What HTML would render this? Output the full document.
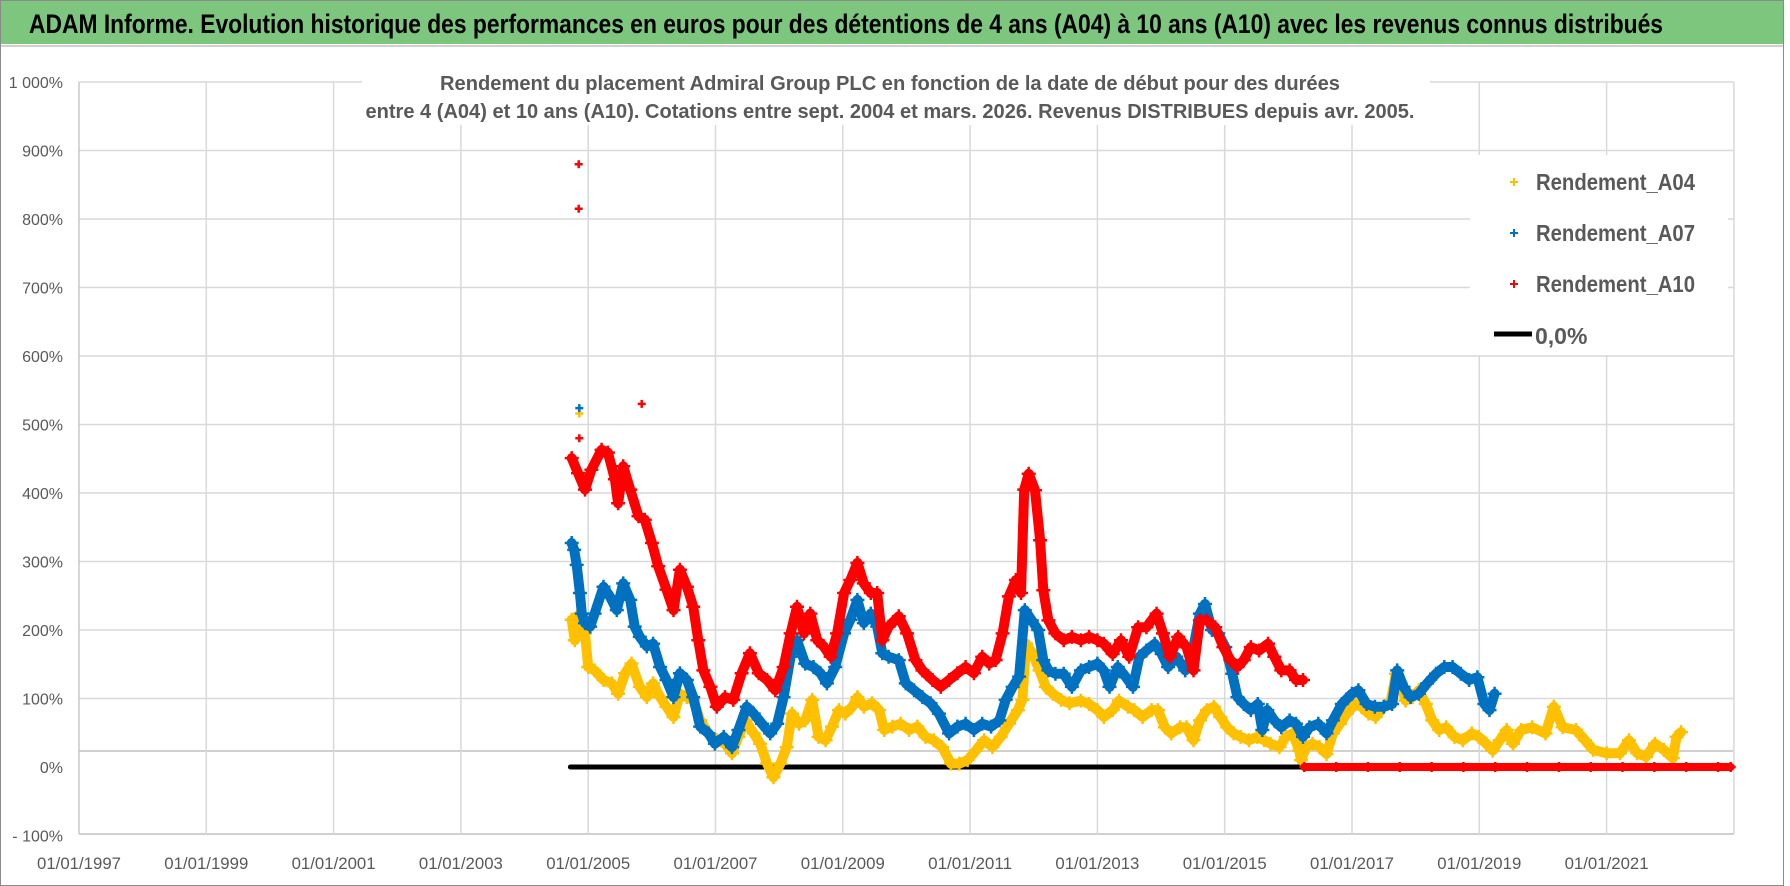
<!DOCTYPE html>
<html><head><meta charset="utf-8"><title>ADAM Informe - Admiral Group PLC</title>
<style>
html,body{margin:0;padding:0;background:#fff;}
svg{display:block;}
text{font-family:"Liberation Sans",sans-serif;}
</style></head>
<body>
<svg id="chart" width="1790" height="886" viewBox="0 0 1790 886">
  <rect x="0" y="0" width="1790" height="886" fill="#fff"/>
  <rect x="0.5" y="0.5" width="1783" height="885" fill="none" stroke="#8a8a8a"/>
  <rect x="1" y="1" width="1782" height="43" fill="#7cc67d"/>
  <line x1="1" y1="46" x2="1783" y2="46" stroke="#d0d0d0" stroke-width="2"/>
  <text x="29" y="33" font-size="27" font-weight="bold" fill="#000" textLength="1634" lengthAdjust="spacingAndGlyphs">ADAM Informe. Evolution historique des performances en euros pour des détentions de 4 ans (A04) à 10 ans (A10) avec les revenus connus distribués</text>
  <g id="grid"></g>
  <rect x="362" y="60" width="1068" height="65" fill="#fff"/>
  <text x="890" y="90" font-size="20" font-weight="bold" fill="#595959" text-anchor="middle" textLength="900" lengthAdjust="spacingAndGlyphs">Rendement du placement Admiral Group PLC en fonction de la date de début pour des durées</text>
  <text x="890" y="118" font-size="20" font-weight="bold" fill="#595959" text-anchor="middle" textLength="1049" lengthAdjust="spacingAndGlyphs">entre 4 (A04) et 10 ans (A10). Cotations entre sept. 2004 et mars. 2026. Revenus DISTRIBUES depuis avr. 2005.</text>
  <g id="yaxis"></g>
  <g id="xaxis"></g>
  <g id="series"></g>
  <g id="legend">
    <rect x="1470" y="155" width="258" height="200" fill="#fff"/>
    <g>
      <path d="M1510 182h8M1514 178v8" stroke="#ffc000" stroke-width="2"/>
      <text x="1536" y="190" font-size="23" font-weight="bold" fill="#595959" textLength="159" lengthAdjust="spacingAndGlyphs">Rendement_A04</text>
    </g>
    <g>
      <path d="M1510 233h8M1514 229v8" stroke="#0070c0" stroke-width="2"/>
      <text x="1536" y="241" font-size="23" font-weight="bold" fill="#595959" textLength="159" lengthAdjust="spacingAndGlyphs">Rendement_A07</text>
    </g>
    <g>
      <path d="M1510 284h8M1514 280v8" stroke="#ff0000" stroke-width="2"/>
      <text x="1536" y="292" font-size="23" font-weight="bold" fill="#595959" textLength="159" lengthAdjust="spacingAndGlyphs">Rendement_A10</text>
    </g>
    <g>
      <line x1="1494" y1="334" x2="1532" y2="334" stroke="#000" stroke-width="5"/>
      <text x="1535" y="344" font-size="23" font-weight="bold" fill="#595959">0,0%</text>
    </g>
  </g>
</svg>
<script>
// ---- data ----
const yTicks = [1000, 900, 800, 700, 600, 500, 400, 300, 200, 100, 0, -100];
const yTickLabels = ["1 000%", "900%", "800%", "700%", "600%", "500%", "400%", "300%", "200%", "100%", "0%", "- 100%"];
const xTickYears = [1997, 1999, 2001, 2003, 2005, 2007, 2009, 2011, 2013, 2015, 2017, 2019, 2021];
const xTickLabels = ["01/01/1997","01/01/1999","01/01/2001","01/01/2003","01/01/2005","01/01/2007","01/01/2009","01/01/2011","01/01/2013","01/01/2015","01/01/2017","01/01/2019","01/01/2021"];

const a10Dates = [2004.74,2004.84,2004.95,2005.05,2005.21,2005.31,2005.42,2005.47,2005.55,2005.66,2005.79,2005.89,2006.0,2006.1,2006.23,2006.34,2006.44,2006.55,2006.65,2006.73,2006.81,2006.92,2007.02,2007.15,2007.28,2007.41,2007.54,2007.68,2007.81,2007.94,2008.07,2008.18,2008.28,2008.39,2008.49,2008.6,2008.7,2008.81,2008.91,2009.02,2009.12,2009.23,2009.33,2009.44,2009.54,2009.62,2009.72,2009.88,2010.01,2010.14,2010.25,2010.41,2010.54,2010.67,2010.8,2010.93,2011.06,2011.19,2011.3,2011.4,2011.51,2011.61,2011.72,2011.8,2011.85,2011.92,2012.02,2012.1,2012.15,2012.23,2012.34,2012.47,2012.6,2012.74,2012.87,2013.0,2013.1,2013.24,2013.37,2013.5,2013.64,2013.77,2013.93,2014.03,2014.14,2014.27,2014.4,2014.51,2014.61,2014.72,2014.85,2014.98,2015.09,2015.2,2015.3,2015.41,2015.54,2015.68,2015.78,2015.89,2016.02,2016.12,2016.23];
const a10Values = [451,429,405,434,463,459,420,385,439,405,366,361,327,293,259,229,288,263,234,185,141,117,88,102,98,137,166,137,127,112,146,195,234,195,224,185,176,161,195,254,273,298,268,254,254,185,205,220,195,156,141,127,117,127,137,146,137,161,151,156,195,249,273,254,405,428,404,331,258,214,195,185,190,185,190,185,180,165,185,161,204,204,224,195,161,190,175,141,214,214,204,175,156,146,156,175,170,180,161,141,141,127,127];
const a10ZeroDates = [2016.25,2016.75,2017.25,2017.75,2018.25,2018.75,2019.25,2019.75,2020.25,2020.75,2021.25,2021.75,2022.25,2022.75,2022.95];
const a10ZeroValues = [0,0,0,0,0,0,0,0,0,0,0,0,0,0,0];
const a10OutlierDates = [2004.85,2004.85,2004.86,2005.84];
const a10OutlierValues = [880,815,480,530];

const a07Dates = [2004.74,2004.78,2004.82,2004.87,2004.9,2004.95,2005.03,2005.1,2005.24,2005.34,2005.45,2005.55,2005.66,2005.73,2005.81,2005.92,2006.02,2006.13,2006.23,2006.34,2006.44,2006.55,2006.65,2006.76,2006.89,2006.99,2007.13,2007.26,2007.36,2007.49,2007.6,2007.73,2007.86,2007.97,2008.07,2008.18,2008.28,2008.41,2008.54,2008.65,2008.75,2008.88,2009.02,2009.12,2009.23,2009.33,2009.44,2009.54,2009.62,2009.72,2009.88,2009.99,2010.12,2010.25,2010.38,2010.51,2010.67,2010.8,2010.93,2011.06,2011.19,2011.33,2011.46,2011.56,2011.67,2011.77,2011.86,2011.97,2012.07,2012.15,2012.23,2012.34,2012.47,2012.6,2012.74,2012.87,2013.0,2013.1,2013.19,2013.32,2013.45,2013.56,2013.66,2013.77,2013.9,2014.01,2014.11,2014.24,2014.38,2014.48,2014.61,2014.69,2014.8,2014.9,2015.01,2015.12,2015.2,2015.3,2015.41,2015.52,2015.59,2015.67,2015.78,2015.89,2016.02,2016.12,2016.23,2016.33,2016.47,2016.6,2016.7,2016.84,2017.0,2017.1,2017.23,2017.36,2017.5,2017.63,2017.71,2017.81,2017.92,2018.05,2018.18,2018.32,2018.45,2018.58,2018.71,2018.84,2018.97,2019.08,2019.16,2019.24];
const a07Values = [327,317,295,254,224,210,205,224,263,249,229,268,244,205,190,176,180,146,127,102,137,127,102,59,49,34,44,29,54,88,78,63,49,63,102,161,185,151,146,137,122,146,195,215,244,210,224,205,166,161,156,122,112,102,93,78,49,59,63,54,63,59,68,98,117,132,229,214,200,156,141,136,136,117,141,146,151,141,117,146,131,117,161,170,180,165,146,161,141,161,224,238,200,195,175,136,102,92,83,92,54,83,68,58,68,63,44,58,63,49,68,92,107,112,92,88,88,92,141,117,102,107,122,136,146,146,136,127,131,92,83,107];
const a07OutlierDates = [2004.86];
const a07OutlierValues = [524];

const a04Dates = [2004.74,2004.79,2004.87,2004.95,2005.0,2005.1,2005.24,2005.37,2005.47,2005.58,2005.68,2005.81,2005.92,2006.02,2006.13,2006.23,2006.34,2006.44,2006.55,2006.65,2006.76,2006.89,2007.02,2007.15,2007.26,2007.36,2007.47,2007.6,2007.7,2007.81,2007.91,2008.02,2008.12,2008.2,2008.31,2008.41,2008.52,2008.62,2008.73,2008.83,2008.94,2009.04,2009.15,2009.23,2009.33,2009.46,2009.57,2009.65,2009.78,2009.91,2010.04,2010.17,2010.3,2010.43,2010.56,2010.7,2010.83,2010.96,2011.09,2011.22,2011.35,2011.48,2011.61,2011.75,2011.82,2011.88,2011.98,2012.09,2012.19,2012.3,2012.43,2012.56,2012.74,2012.87,2013.0,2013.1,2013.24,2013.34,2013.48,2013.58,2013.71,2013.85,2013.95,2014.06,2014.16,2014.3,2014.4,2014.51,2014.61,2014.72,2014.83,2014.93,2015.04,2015.14,2015.25,2015.38,2015.51,2015.62,2015.72,2015.86,2015.96,2016.07,2016.17,2016.2,2016.28,2016.38,2016.49,2016.6,2016.7,2016.81,2016.92,2017.05,2017.15,2017.26,2017.37,2017.5,2017.61,2017.69,2017.77,2017.84,2017.95,2018.05,2018.16,2018.26,2018.37,2018.48,2018.61,2018.74,2018.88,2018.99,2019.11,2019.21,2019.32,2019.43,2019.53,2019.66,2019.83,2020.04,2020.17,2020.31,2020.52,2020.66,2020.79,2021.0,2021.21,2021.35,2021.48,2021.62,2021.76,2021.9,2022.04,2022.1,2022.17];
const a04Values = [215,185,224,195,146,141,127,122,107,137,151,117,102,122,102,88,73,107,102,98,68,49,39,34,20,44,68,49,34,5,-15,5,29,78,63,68,98,44,39,59,83,78,88,102,88,93,83,54,59,63,54,59,44,39,29,5,5,10,24,39,29,44,63,83,98,180,166,141,117,107,98,93,97,92,83,73,83,97,88,83,73,83,83,58,49,58,58,39,68,83,88,73,58,49,44,39,44,39,34,29,44,49,24,10,29,34,29,19,49,63,78,92,88,78,73,88,97,136,122,97,102,112,92,68,54,58,44,39,49,44,34,24,39,54,34,54,58,49,88,58,54,39,25,20,20,39,20,15,34,25,13,44,51];
const a04OutlierDates = [2004.86];
const a04OutlierValues = [516];

const zeroDates = [2004.72, 2016.22];
const zeroValues = [0, 0];

// ---- axes ----
const X0 = 79, PXYEAR = 63.65, Y0 = 767, PXPCT = 0.685;
function xs(yr){ return X0 + (yr - 1997) * PXYEAR; }
function ys(v){ return Y0 - v * PXPCT; }
const NS = "http://www.w3.org/2000/svg";
function mk(tag, attrs, parent){ const e = document.createElementNS(NS, tag); for (const k in attrs) e.setAttribute(k, attrs[k]); parent.appendChild(e); return e; }

const grid = document.getElementById('grid');
const plotLeft = xs(1997), plotRight = xs(2023);
yTicks.forEach(v => {
  if (v >= 100) {
    const l = mk('line', {x1: plotLeft, x2: plotRight, y1: ys(v), y2: ys(v), stroke: '#d9d9d9', 'stroke-width': 1.5}, grid);
    
    
  }
});
const g0 = mk('line', {x1: plotLeft, x2: plotRight, y1: 751, y2: 751, stroke: '#d0d0d0', 'stroke-width': 2}, grid);


const gb = mk('line', {x1: plotLeft, x2: plotRight, y1: 834, y2: 834, stroke: '#d0d0d0', 'stroke-width': 2}, grid);


xTickYears.forEach((yr, i) => {
  const l = mk('line', {x1: xs(yr), x2: xs(yr), y1: ys(1000), y2: 834, stroke: i === 0 ? '#c8c8c8' : '#d9d9d9', 'stroke-width': 1.5}, grid);
  
  
});
const rl = mk('line', {x1: plotRight, x2: plotRight, y1: ys(1000), y2: 834, stroke: '#d9d9d9', 'stroke-width': 1.5}, grid);



const yaxis = document.getElementById('yaxis');
yTicks.forEach((v, i) => {
  const t = mk('text', {x: 63, y: ys(v) + 6, 'font-size': 16, fill: '#595959', 'text-anchor': 'end'}, yaxis);
  t.textContent = yTickLabels[i];
  
  
});
const xaxis = document.getElementById('xaxis');
xTickYears.forEach((yr, i) => {
  const t = mk('text', {x: xs(yr), y: 869, 'font-size': 17, fill: '#595959', 'text-anchor': 'middle', textLength: 84, lengthAdjust: 'spacingAndGlyphs'}, xaxis);
  t.textContent = xTickLabels[i];
  
  
});

// ---- series ----
const series = document.getElementById('series');
function band(dates, vals, color, name, width){
  const pts = dates.map((d, i) => xs(d).toFixed(1) + ',' + ys(vals[i]).toFixed(1)).join(' ');
  const p = mk('polyline', {points: pts, fill: 'none', stroke: color, 'stroke-width': width, 'stroke-linejoin': 'round', 'stroke-linecap': 'round'}, series);
  
  
}
function markers(dates, vals, color, name, s){
  let d = '';
  dates.forEach((yr, i) => { const x = xs(yr), y = ys(vals[i]); d += `M${(x-s).toFixed(1)} ${y.toFixed(1)}h${2*s}M${x.toFixed(1)} ${(y-s).toFixed(1)}v${2*s}`; });
  const p = mk('path', {d: d, stroke: color, 'stroke-width': 2.5, fill: 'none'}, series);
  
  
}
const zl = mk('polyline', {points: zeroDates.map((d,i)=>xs(d)+','+ys(zeroValues[i])).join(' '), stroke: '#000', 'stroke-width': 5, fill: 'none', 'stroke-linecap': 'round'}, series);



band(a04Dates, a04Values, '#ffc000', 'series-a04', 10);
markers(a04Dates, a04Values, '#ffc000', 'series-a04', 7);
markers(a04OutlierDates, a04OutlierValues, '#ffc000', 'series-a04-outlier', 4);
band(a07Dates, a07Values, '#0070c0', 'series-a07', 10);
markers(a07Dates, a07Values, '#0070c0', 'series-a07', 7);
markers(a07OutlierDates, a07OutlierValues, '#0070c0', 'series-a07-outlier', 4);
band(a10Dates, a10Values, '#ff0000', 'series-a10', 10);
markers(a10Dates, a10Values, '#ff0000', 'series-a10', 7);
markers(a10OutlierDates, a10OutlierValues, '#ff0000', 'series-a10-outlier', 4);
band(a10ZeroDates, a10ZeroValues, '#ff0000', 'series-a10-zero', 8);
markers(a10ZeroDates, a10ZeroValues, '#ff0000', 'series-a10-zero', 5);
</script>
</body></html>
